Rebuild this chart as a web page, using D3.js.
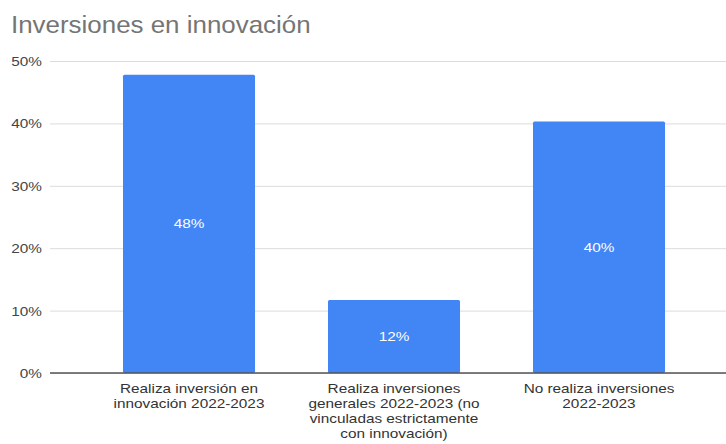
<!DOCTYPE html>
<html><head><meta charset="utf-8">
<script src="https://cdn.jsdelivr.net/npm/d3@7"></script>
<style>body{margin:0;background:#fff}svg{display:block}</style>
</head><body>
<svg id="c" width="726" height="444"></svg>
<script>
const categories = [
  ["Realiza inversión en", "innovación 2022-2023"],
  ["Realiza inversiones", "generales 2022-2023 (no", "vinculadas estrictamente", "con innovación)"],
  ["No realiza inversiones", "2022-2023"]
];
const values = [0.478, 0.117, 0.403];
const valueLabels = ["48%", "12%", "40%"];
const yTicks = [0, 0.1, 0.2, 0.3, 0.4, 0.5];
const title = "Inversiones en innovación";

const svg = d3.select("#c");
const font = "Arial, 'Liberation Sans', sans-serif";
const sx = 1.18;
const x = d3.scaleBand().domain(d3.range(categories.length)).range([86.5, 701.5]).paddingInner(0.356).paddingOuter(0.178);
const y = d3.scaleLinear().domain([0, 0.5]).range([373, 61]);

svg.append("text").attr("transform", "translate(11,33) scale(1.08,1)").text(title)
  .attr("font-family", font).attr("font-size", 24).attr("fill", "#757575");

const yAxis = svg.append("g").attr("transform", "translate(50,0)")
  .call(d3.axisLeft(y).tickValues(yTicks).tickFormat(d3.format(".0%")).tickSize(-676).tickPadding(8));
yAxis.select(".domain").remove();
yAxis.selectAll(".tick line").attr("stroke", "#dcdcdc").attr("stroke-width", 1);
yAxis.selectAll(".tick text").attr("font-family", font).attr("font-size", 13).attr("fill", "#444")
  .attr("x", null).attr("dy", null)
  .attr("transform", `translate(-8,4.5) scale(${sx},1)`);

svg.append("g").selectAll("rect").data(values).join("rect")
  .attr("x", (d, i) => x(i)).attr("width", x.bandwidth())
  .attr("y", d => y(d)).attr("height", d => y(0) - y(d))
  .attr("fill", "#4285f4").attr("rx", 1.5);

svg.append("line").attr("x1", 50).attr("x2", 726).attr("y1", y(0)).attr("y2", y(0))
  .attr("stroke", "#555").attr("stroke-width", 1.5);

svg.append("g").selectAll("text").data(values).join("text")
  .attr("transform", (d, i) => `translate(${x(i) + x.bandwidth() / 2},${(y(d) + y(0)) / 2 + 4.5}) scale(${sx},1)`)
  .attr("text-anchor", "middle")
  .attr("font-family", font).attr("font-size", 13).attr("fill", "#fff")
  .text((d, i) => valueLabels[i]);

const cat = svg.append("g").selectAll("text").data(categories).join("text")
  .attr("transform", (d, i) => `translate(${x(i) + x.bandwidth() / 2},393) scale(${sx},1)`)
  .attr("text-anchor", "middle").attr("font-family", font).attr("font-size", 13).attr("fill", "#333");
cat.selectAll("tspan").data(d => d).join("tspan")
  .attr("x", 0)
  .attr("dy", (d, i) => i === 0 ? 0 : 15).text(d => d);
</script>
</body></html>
